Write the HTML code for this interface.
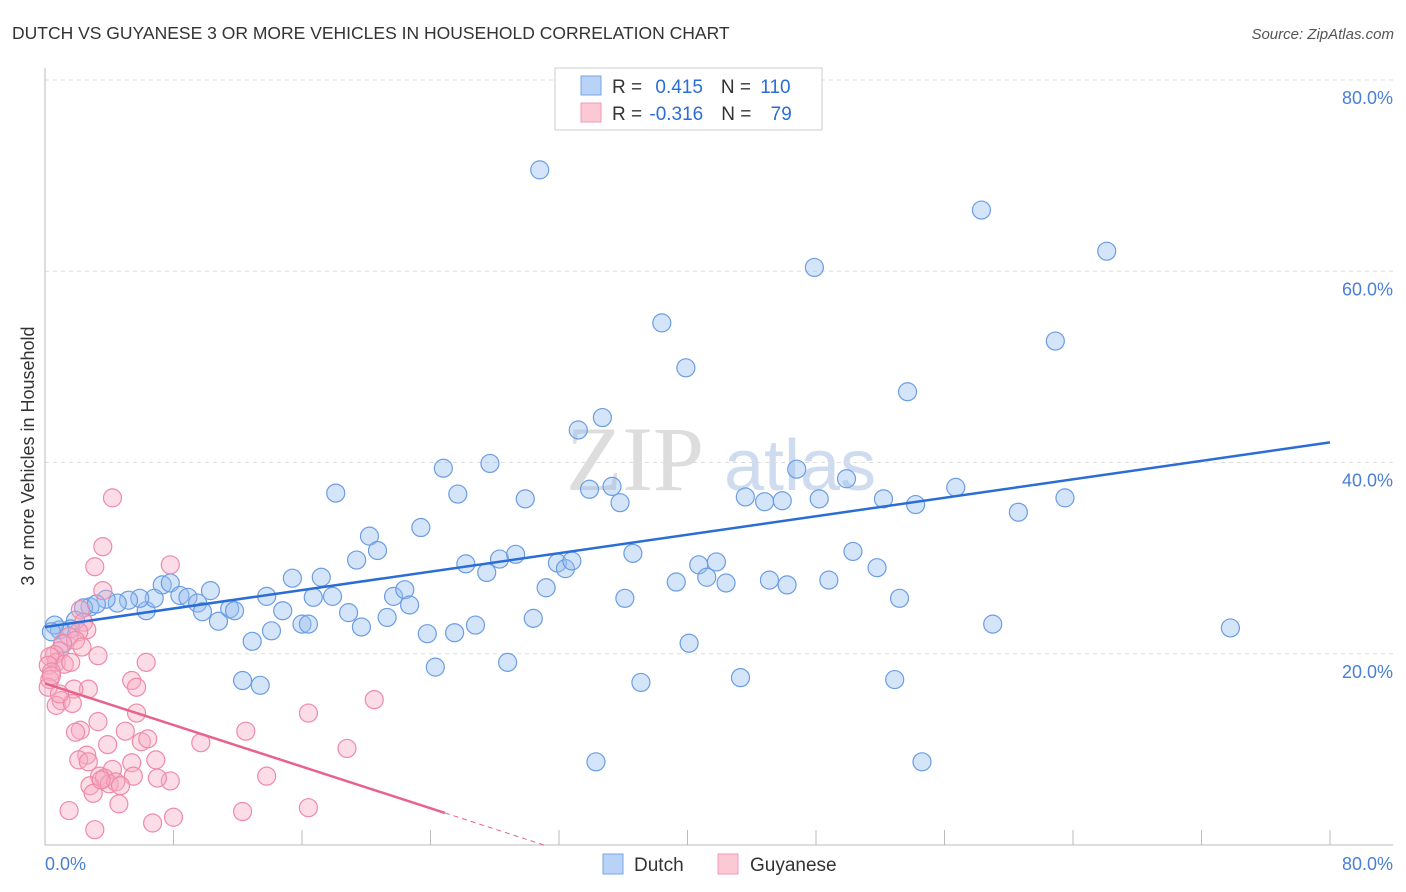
<!DOCTYPE html>
<html><head><meta charset="utf-8"><style>
body{margin:0;background:#fff;font-family:"Liberation Sans",sans-serif}
svg{display:block}
</style></head><body>
<svg id="chart" width="1406" height="892">
<text x="12" y="39" font-size="17.5" fill="#333">DUTCH VS GUYANESE 3 OR MORE VEHICLES IN HOUSEHOLD CORRELATION CHART</text>
<text x="1394" y="39" font-size="15" fill="#555" font-style="italic" text-anchor="end">Source: ZipAtlas.com</text>
<g>
<text x="635" y="490" font-size="92" fill="#ddd" font-family="Liberation Serif" text-anchor="middle">ZIP</text>
<text x="800" y="490" font-size="72" fill="#cfdcef" text-anchor="middle">atlas</text>
</g>
<g id="grid"></g>
<g id="axes"></g>
<g id="marks"></g>
<text transform="translate(34,456) rotate(-90)" font-size="18" fill="#333" text-anchor="middle">3 or more Vehicles in Household</text>
<g>
<rect x="555" y="68" width="267" height="62" fill="#fff" stroke="#ccc"/>
<rect x="581" y="76" width="20" height="19" fill="#b8d3f5" stroke="#7aa6e6"/>
<rect x="581" y="103" width="20" height="19" fill="#fbc8d6" stroke="#f09ab2"/>
<text x="612" y="93" font-size="19" fill="#333">R = <tspan fill="#2a6dd6" dx="8">0.415</tspan><tspan dx="18">N = </tspan><tspan fill="#2a6dd6" dx="4">110</tspan></text>
<text x="612" y="120" font-size="19" fill="#333">R = <tspan fill="#2a6dd6" dx="2">-0.316</tspan><tspan dx="18">N = </tspan><tspan fill="#2a6dd6" dx="14">79</tspan></text>
</g>
<g>
<rect x="603" y="854" width="20" height="20" fill="#b8d3f5" stroke="#7aa6e6"/>
<text x="634" y="871" font-size="19" fill="#333">Dutch</text>
<rect x="718" y="854" width="20" height="20" fill="#fbc8d6" stroke="#f09ab2"/>
<text x="750" y="871" font-size="19" fill="#333">Guyanese</text>
</g>
</svg>
<script>
const yTicks=[20,40,60,80];
const yTickLabels=["20.0%","40.0%","60.0%","80.0%"];
const xTicks=[0,8,16,24,32,40,48,56,64,72,80];
const dutchX=[30.8,58.3,47.9,66.1,38.4,62.9,39.9,53.7,34.7,33.2,24.8,27.7,46.8,18.1,25.7,29.9,35.3,33.9,35.8,43.6,44.8,45.9,48.2,49.9,52.2,54.2,56.7,63.5,60.6,23.4,20.2,20.7,19.4,26.2,28.3,29.3,27.5,31.9,32.4,32.8,36.6,40.7,41.8,50.3,51.8,31.2,39.3,41.2,42.4,45.1,46.2,48.8,53.2,36.1,21.7,22.4,22.7,15.4,17.2,16.7,17.9,13.8,10.3,7.3,7.8,8.4,8.9,9.5,9.8,11.5,11.8,10.8,6.3,6.8,5.9,5.2,4.5,3.8,2.8,2.4,3.2,1.9,1.6,0.9,0.6,14.8,16.0,16.4,18.9,19.7,21.3,14.1,12.9,23.8,25.5,26.8,30.4,40.1,59.0,73.8,24.3,28.8,12.3,13.4,37.1,43.3,52.9,34.3,54.6,1.1,0.4];
const dutchY=[70.6,66.4,60.4,62.1,54.6,52.7,49.9,47.4,44.7,43.4,39.4,39.9,39.3,36.8,36.7,36.2,37.5,37.2,35.8,36.4,35.9,36.0,36.2,38.3,36.2,35.6,37.4,36.3,34.8,33.2,32.3,30.8,29.8,29.4,29.9,30.4,28.5,29.5,28.9,29.7,30.5,29.3,29.6,30.7,29.0,26.9,27.5,28.0,27.4,27.7,27.2,27.7,25.8,25.8,26.0,26.7,25.1,27.9,28.0,25.9,26.0,26.0,26.6,27.2,27.4,26.1,25.9,25.3,24.4,24.7,24.5,23.4,24.5,25.8,25.8,25.6,25.3,25.7,24.9,24.8,25.2,23.5,22.6,22.5,23.0,24.5,23.1,23.1,24.3,22.8,23.8,22.4,21.3,22.1,22.2,23.0,23.7,21.1,23.1,22.7,18.6,19.1,17.2,16.7,17.0,17.5,17.3,8.7,8.7,21.0,22.3];
const guyX=[4.2,3.6,3.1,7.8,3.6,2.2,2.4,2.6,2.1,1.5,1.9,2.3,1.1,0.9,0.6,0.7,1.2,1.6,3.3,6.3,0.3,0.2,0.4,0.3,0.2,0.4,2.7,5.4,5.7,1.8,1.0,0.7,1.7,0.9,16.4,20.5,5.7,3.3,2.2,1.9,5.0,6.0,3.9,6.4,9.7,12.5,2.6,2.1,2.7,5.4,6.9,4.2,3.4,3.7,5.5,7.8,7.0,2.8,4.0,4.4,4.7,13.8,18.8,3.0,4.6,1.5,6.7,8.0,12.3,16.4,3.1,3.5];
const guyY=[36.3,31.2,29.1,29.3,26.6,24.6,23.3,22.5,22.3,21.8,21.4,20.7,21.1,20.3,19.9,19.1,18.9,19.1,19.8,19.1,19.7,18.8,18.1,17.3,16.5,17.7,16.3,17.2,16.5,16.3,15.1,14.6,14.8,15.8,13.8,15.2,13.8,12.9,12.0,11.8,11.9,10.8,10.5,11.1,10.7,11.9,9.4,8.9,8.7,8.6,8.9,7.9,7.2,7.0,7.2,6.7,7.0,6.2,6.4,6.6,6.2,7.2,10.1,5.4,4.3,3.6,2.3,2.9,3.5,3.9,1.6,6.8];
const dutchTrend=[22.8,42.1];
const guyTrend=[16.9,-0.544];

const NS="http://www.w3.org/2000/svg";
const X0=45,X1=1330,Y0=845,Y1=80;
const xs=v=>X0+(v/80)*(X1-X0);
const ys=v=>Y0-(v/80)*(Y0-Y1);
function mk(tag,attrs,parent){const e=document.createElementNS(NS,tag);for(const k in attrs)e.setAttribute(k,attrs[k]);parent.appendChild(e);return e;}
const grid=document.getElementById('grid'),axes=document.getElementById('axes'),marks=document.getElementById('marks');
yTicks.forEach((t,i)=>{
 const l=mk('line',{x1:X0,x2:1393,y1:ys(t),y2:ys(t),stroke:'#ddd','stroke-dasharray':'4,4'},grid);
 
 
 const tx=mk('text',{x:1393,y:ys(t)+24,'font-size':18,fill:'#4a7fd4','text-anchor':'end'},axes);
 tx.textContent=yTickLabels[i];
 
 
});
let a=mk('line',{x1:X0,x2:X0,y1:68,y2:Y0,stroke:'#bbb'},axes);


a=mk('line',{x1:X0,x2:1393,y1:Y0,y2:Y0,stroke:'#bbb'},axes);


xTicks.forEach(t=>{
 const l=mk('line',{x1:xs(t),x2:xs(t),y1:Y0,y2:Y0-15,stroke:'#bbb'},axes);
 
 
});
let t=mk('text',{x:45,y:870,'font-size':18,fill:'#4a7fd4'},axes);t.textContent='0.0%';


t=mk('text',{x:1393,y:870,'font-size':18,fill:'#4a7fd4','text-anchor':'end'},axes);t.textContent='80.0%';


dutchX.forEach((v,i)=>{
 const c=mk('circle',{cx:xs(v),cy:ys(dutchY[i]),r:9,fill:'rgba(150,190,240,0.4)',stroke:'#6b9de3','stroke-width':1.2},marks);
 
 
});
guyX.forEach((v,i)=>{
 const c=mk('circle',{cx:xs(v),cy:ys(guyY[i]),r:9,fill:'rgba(248,170,195,0.4)',stroke:'#ee8aa8','stroke-width':1.2},marks);
 
 
});
let tl=mk('line',{x1:xs(0),y1:ys(dutchTrend[0]),x2:xs(80),y2:ys(dutchTrend[1]),stroke:'#2a6dd6','stroke-width':2.5},marks);


const gEnd=24.9,gZero=-guyTrend[0]/guyTrend[1];
tl=mk('line',{x1:xs(0),y1:ys(guyTrend[0]),x2:xs(gEnd),y2:ys(guyTrend[0]+guyTrend[1]*gEnd),stroke:'#e8638c','stroke-width':2.5},marks);


tl=mk('line',{x1:xs(gEnd),y1:ys(guyTrend[0]+guyTrend[1]*gEnd),x2:xs(gZero),y2:ys(0),stroke:'#e8638c','stroke-width':1,'stroke-dasharray':'5,4'},marks);


</script>
</body></html>
